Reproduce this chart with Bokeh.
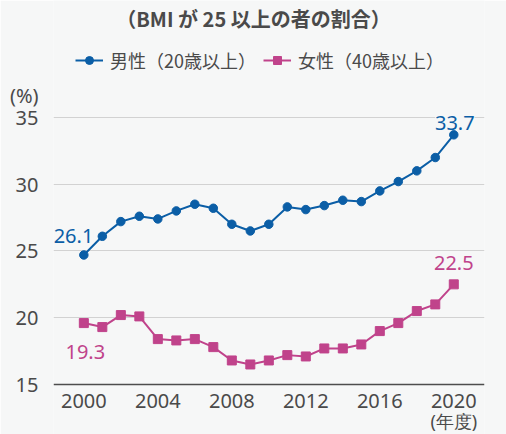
from bokeh.plotting import figure
from bokeh.models import Label, Legend, LegendItem, FixedTicker, Range1d
from bokeh.embed import file_html
from bokeh.resources import INLINE

# ---- data ----
years = list(range(2000, 2021))
male = [24.7, 26.1, 27.2, 27.6, 27.4, 28.0, 28.5, 28.2, 27.0, 26.5, 27.0,
        28.3, 28.1, 28.4, 28.8, 28.7, 29.5, 30.2, 31.0, 32.0, 33.7]
female = [19.6, 19.3, 20.2, 20.1, 18.4, 18.3, 18.4, 17.8, 16.8, 16.5, 16.8,
          17.2, 17.1, 17.7, 17.7, 18.0, 19.0, 19.6, 20.5, 21.0, 22.5]
series_names = ["男性（20歳以上）", "女性（40歳以上）"]
title_text = "（BMI が 25 以上の者の割合）"
y_unit = "(%)"
x_unit = "(年度)"
x_ticks = [2000, 2004, 2008, 2012, 2016, 2020]
y_ticks = [15, 20, 25, 30, 35]
male_label_years = [2001, 2020]
female_label_years = [2001, 2020]

BG = "#f6f7f7"
BLUE = "#0b5ea6"
PINK = "#c0438b"
TXT = "#4a4a4a"
JP = "Noto Sans CJK JP"
NUM = "Noto Sans"

Y_UNIT_POS = 36.65  # vertical place of the "(%)" caption above the axis

p = figure(width=506, height=434, output_backend="svg", toolbar_location=None,
           x_range=Range1d(1998.36, 2021.66), y_range=Range1d(11.255, 43.76),
           min_border_left=53, min_border_right=22, min_border_top=0,
           min_border_bottom=0)
p.background_fill_color = BG
p.border_fill_color = BG
p.outline_line_color = None

p.xgrid.grid_line_color = None
p.ygrid.grid_line_color = "#d2d2d2"
p.ygrid.grid_line_width = 1
p.ygrid.ticker = FixedTicker(ticks=y_ticks[1:])

p.xaxis.ticker = FixedTicker(ticks=x_ticks)
p.xaxis.fixed_location = y_ticks[0]
p.yaxis.ticker = FixedTicker(ticks=y_ticks + [Y_UNIT_POS])
p.yaxis.major_label_overrides = {Y_UNIT_POS: y_unit}
p.yaxis.axis_line_color = None
p.xaxis.axis_line_color = "#4d4d4d"
p.xaxis.axis_line_width = 1.6
for ax in (p.xaxis, p.yaxis):
    ax.major_tick_line_color = None
    ax.minor_tick_line_color = None
    ax.major_label_text_font = NUM
    ax.major_label_text_font_size = "20px"
    ax.major_label_text_color = TXT
p.yaxis.major_label_standoff = 9
p.xaxis.major_label_standoff = 4

ml = p.line(years, male, line_color=BLUE, line_width=2)
ms = p.scatter(years, male, marker="circle", size=8.5, fill_color=BLUE, line_color=BLUE)
fl = p.line(years, female, line_color=PINK, line_width=2)
fs = p.scatter(years, female, marker="square", size=9, fill_color=PINK, line_color=PINK)

legend = Legend(items=[LegendItem(label=series_names[0], renderers=[ml, ms]),
                       LegendItem(label=series_names[1], renderers=[fl, fs])],
                orientation="horizontal", location=(22, 361),
                background_fill_alpha=0, border_line_color=None,
                padding=0, margin=0, spacing=7, label_standoff=7,
                glyph_width=28, glyph_height=20,
                label_text_font=JP, label_text_font_size="18px",
                label_text_color=TXT, label_text_baseline="middle")
p.add_layout(legend, "center")

# title and year caption
p.add_layout(Label(x=200, y=416, x_units="screen", y_units="screen", text=title_text,
                   text_align="center", text_baseline="middle", text_font=JP,
                   text_font_size="20px", text_font_style="bold", text_color=TXT))
p.add_layout(Label(x=x_ticks[-1], y=y_ticks[0], text=x_unit, y_offset=-37,
                   text_align="center", text_baseline="middle", text_font=NUM,
                   text_font_size="18px", text_color=TXT))

# value labels
def vlabel(x, y, color, align, xo, yo):
    p.add_layout(Label(x=x, y=y, text=f"{y:.1f}", text_align=align,
                       text_baseline="alphabetic", x_offset=xo, y_offset=yo,
                       text_font=NUM, text_font_size="20px", text_color=color,
                       background_fill_color=BG))

mv = dict(zip(years, male))
fv = dict(zip(years, female))
vlabel(male_label_years[0], mv[male_label_years[0]], BLUE, "right", -9, 0)
vlabel(male_label_years[1], mv[male_label_years[1]], BLUE, "center", 1, 12)
vlabel(female_label_years[0], fv[female_label_years[0]], PINK, "center", -17, -25)
vlabel(female_label_years[1], fv[female_label_years[1]], PINK, "center", 0, 21)

open("out.html", "w").write(file_html(p, INLINE))
